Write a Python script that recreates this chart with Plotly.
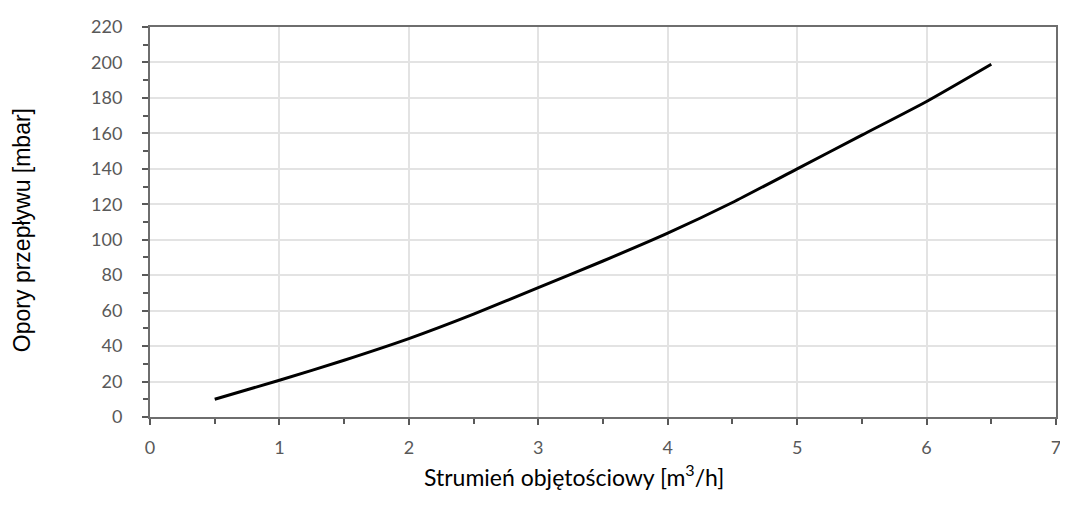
import plotly.graph_objects as go

flow = [0.5, 1.0, 1.5, 2.0, 2.5, 3.0, 3.5, 4.0, 4.5, 5.0, 5.5, 6.0, 6.5]
resistance = [10, 20.7, 32, 44.2, 58, 73, 88, 103.7, 121, 140, 159, 178, 199]

x_ticks = [0, 1, 2, 3, 4, 5, 6, 7]
y_ticks = list(range(0, 221, 20))

fig = go.Figure()
fig.add_trace(go.Scatter(
    x=flow, y=resistance, mode="lines",
    line=dict(color="#000000", width=3, shape="spline", smoothing=0.6),
    showlegend=False, hoverinfo="skip",
))

tick_font = dict(family="Lato, 'Open Sans', sans-serif", size=18, color="#595959")

fig.update_xaxes(
    range=[0, 7], tickvals=x_ticks, ticktext=[str(v) for v in x_ticks],
    showgrid=True, gridcolor="#e3e3e3", gridwidth=1.5, zeroline=False,
    showline=True, linecolor="#6e6e6e", linewidth=2, mirror=True,
    ticks="outside", ticklen=6, tickwidth=2, tickcolor="#595959",
    minor=dict(dtick=0.5, ticks="outside", ticklen=5, tickwidth=2, tickcolor="#595959", showgrid=False),
    tickfont=tick_font, ticklabelstandoff=7,
)
fig.update_yaxes(
    range=[0, 220], tickvals=y_ticks, ticktext=[str(v) for v in y_ticks],
    showgrid=True, gridcolor="#e3e3e3", gridwidth=1.5, zeroline=False,
    showline=True, linecolor="#6e6e6e", linewidth=2, mirror=True,
    ticks="outside", ticklen=6, tickwidth=2, tickcolor="#595959",
    minor=dict(dtick=10, ticks="outside", ticklen=5, tickwidth=2, tickcolor="#595959", showgrid=False),
    tickfont=tick_font, ticklabelstandoff=16,
)

# page body has an 8px default margin, so the figure is offset by 8px
fig.update_layout(
    width=1060, height=501,
    margin=dict(l=142, r=7, t=16, b=92),
    paper_bgcolor="white", plot_bgcolor="white",
    annotations=[
        dict(text="Strumień objętościowy [m<sup>3</sup>/h]", xref="paper", yref="paper",
             x=(576 - 150) / 911, y=-(476 - 417) / 393, xanchor="center", yanchor="middle",
             showarrow=False, font=dict(family="Lato, 'Open Sans', sans-serif", size=23, color="#000000")),
        dict(text="Opory przepływu [mbar]", xref="paper", yref="paper",
             x=-(150 - 22) / 911, y=(417 - 229) / 393, xanchor="center", yanchor="middle",
             textangle=-90, showarrow=False,
             font=dict(family="'Liberation Sans', Arial, sans-serif", size=23, color="#000000")),
    ],
)

fig.write_html("out.html")
